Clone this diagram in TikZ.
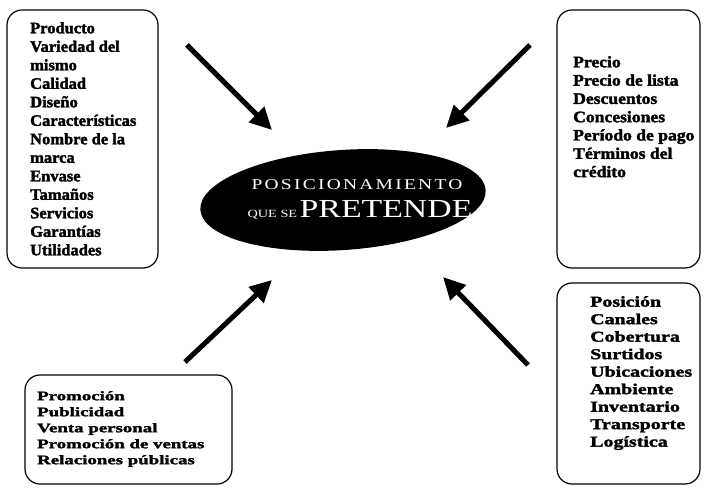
\documentclass[tikz,border=0pt]{standalone}
\usepackage{fontspec}
\usepackage{tikz}
\usetikzlibrary{arrows.meta}
\setmainfont{Liberation Serif}
\newfontfamily\prodfont{Liberation Serif Bold}[FakeStretch=1.03, FakeBold=2]
\newfontfamily\preciofont{Liberation Serif Bold}[FakeStretch=1.1, FakeBold=2]
\newfontfamily\promofont{Liberation Serif Bold}[FakeStretch=1.45, FakeBold=2]
\newfontfamily\plazafont{Liberation Serif Bold}[FakeStretch=1.33, FakeBold=2]
\newfontfamily\ovalfont{Liberation Serif}[FakeStretch=1.3, LetterSpace=15]
\newfontfamily\ovalbig{Liberation Serif}[FakeStretch=1.3]

\tikzset{
  mixbox/.style={draw, line width=1.2pt, rounded corners=15pt},
  mixlist/.style={anchor=north west, inner sep=0pt, align=left},
  ovaltext/.style={text=white, anchor=base, inner sep=0pt},
  pointer/.style={line width=5pt, -{Triangle[length=22pt, width=21pt]}}
}

\begin{document}
\begin{tikzpicture}[x=1pt, y=1pt]
\useasboundingbox[fill=white] (0,0) rectangle (704,490);

\draw[mixbox] (7,222) rectangle (158,480);
\draw[mixbox] (557,222) rectangle (700,480);
\draw[mixbox] (25,6) rectangle (232,115);
\draw[mixbox] (557,6) rectangle (700,207);

\node[mixlist, font=\prodfont\fontsize{16}{18.5}\selectfont] (producto) at (30,468)
  {Producto\\Variedad del\\mismo\\Calidad\\Diseño\\Características\\Nombre de la\\marca\\Envase\\Tamaños\\Servicios\\Garantías\\Utilidades};
\node[mixlist, font=\preciofont\fontsize{16}{18.3}\selectfont] (precio) at (573,434)
  {Precio\\Precio de lista\\Descuentos\\Concesiones\\Período de pago\\Términos del\\crédito};
\node[mixlist, font=\promofont\fontsize{13}{16}\selectfont] (promocion) at (37,99)
  {Promoción\\Publicidad\\Venta personal\\Promoción de ventas\\Relaciones públicas};
\node[mixlist, font=\plazafont\fontsize{15}{17.5}\selectfont] (plaza) at (590,194)
  {Posición\\Canales\\Cobertura\\Surtidos\\Ubicaciones\\Ambiente\\Inventario\\Transporte\\Logística};

\fill[rotate around={4:(343,290)}] (343,290) ellipse (143 and 50);
\node[ovaltext, font=\ovalfont\fontsize{15}{18}\selectfont] (meta) at (357,300) {POSICIONAMIENTO};
\node[ovaltext] (metab) at (360,272)
  {{\ovalbig\fontsize{11}{13}\selectfont QUE SE} {\ovalbig\fontsize{26}{28}\selectfont PRETENDE}};

\coordinate (p1) at (187,445);
\coordinate (p2) at (272,360);
\coordinate (q1) at (530,445);
\coordinate (q2) at (446,362);
\coordinate (r1) at (185,128);
\coordinate (r2) at (272,210);
\coordinate (s1) at (528,125);
\coordinate (s2) at (443,213);

\draw[pointer] (p1) -- (p2);
\draw[pointer] (q1) -- (q2);
\draw[pointer] (r1) -- (r2);
\draw[pointer] (s1) -- (s2);
\end{tikzpicture}
\end{document}
